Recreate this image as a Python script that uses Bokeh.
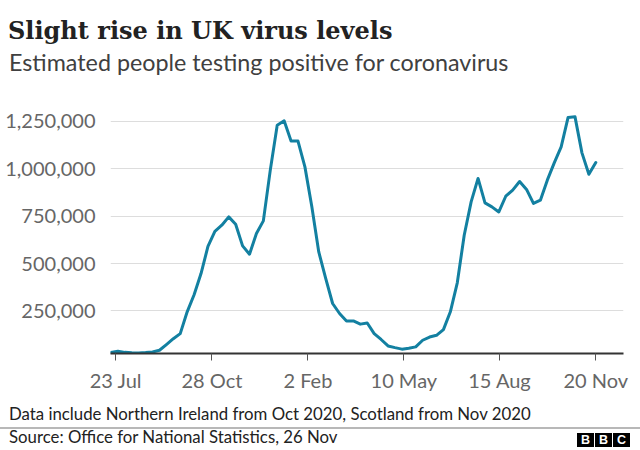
import pandas as pd
from bokeh.plotting import figure
from bokeh.models import ColumnDataSource, FixedTicker, NumeralTickFormatter, Range1d, Div
from bokeh.layouts import column
from bokeh.embed import file_html
from bokeh.resources import INLINE

# ---- data (weekly estimates) ----
week_ending = [
    "2020-07-18", "2020-07-25", "2020-08-01", "2020-08-08", "2020-08-15", "2020-08-22",
    "2020-08-29", "2020-09-05", "2020-09-12", "2020-09-19", "2020-09-26", "2020-10-03",
    "2020-10-10", "2020-10-17", "2020-10-24", "2020-10-31", "2020-11-07", "2020-11-14",
    "2020-11-21", "2020-11-28", "2020-12-05", "2020-12-12", "2020-12-19", "2020-12-26",
    "2021-01-02", "2021-01-09", "2021-01-16", "2021-01-23", "2021-01-30", "2021-02-06",
    "2021-02-13", "2021-02-20", "2021-02-27", "2021-03-06", "2021-03-13", "2021-03-20",
    "2021-03-27", "2021-04-03", "2021-04-10", "2021-04-17", "2021-04-24", "2021-05-01",
    "2021-05-08", "2021-05-15", "2021-05-22", "2021-05-29", "2021-06-05", "2021-06-12",
    "2021-06-19", "2021-06-26", "2021-07-03", "2021-07-10", "2021-07-17", "2021-07-24",
    "2021-07-31", "2021-08-07", "2021-08-14", "2021-08-21", "2021-08-28", "2021-09-04",
    "2021-09-11", "2021-09-18", "2021-09-25", "2021-10-02", "2021-10-09", "2021-10-16",
    "2021-10-23", "2021-10-30", "2021-11-06", "2021-11-13", "2021-11-20",
]
people_positive = [
    30000, 37000, 31000, 29000, 28000, 30000,
    33000, 42000, 72000, 103000, 130000, 245000,
    335000, 447000, 590000, 670000, 702000, 746000,
    707000, 593000, 549000, 658000, 725000, 993000,
    1230000, 1253000, 1147000, 1146000, 1010000, 799000,
    561000, 421000, 289000, 236000, 197000, 197000,
    180000, 186000, 130000, 99000, 65000, 56000,
    48000, 53000, 60000, 95000, 112000, 121000,
    151000, 245000, 398000, 649000, 825000, 949000,
    820000, 799000, 772000, 855000, 887000, 933000,
    891000, 817000, 834000, 940000, 1031000, 1116000,
    1271000, 1274000, 1084000, 971000, 1033000,
]
x_tick_dates = ["2020-07-23", "2020-10-28", "2021-02-02", "2021-05-10", "2021-08-15", "2021-11-20"]
x_tick_labels = ["23 Jul", "28 Oct", "2 Feb", "10 May", "15 Aug", "20 Nov"]
y_ticks = [250000, 500000, 750000, 1000000, 1250000]

title_text = "Slight rise in UK virus levels"
subtitle_text = "Estimated people testing positive for coronavirus"
note_text = "Data include Northern Ireland from Oct 2020, Scotland from Nov 2020"
source_text = "Source: Office for National Statistics, 26 Nov"

W = 640
HEADER_H = 100
FIG_H = 295
FOOTER_H = 55

# ---- header ----
header_html = f"""
<div style="position:relative;width:{W}px;height:{HEADER_H}px;">
  <div style="position:absolute;left:8px;top:19px;white-space:nowrap;line-height:1;
              font-family:'DejaVu Serif';font-weight:bold;font-size:24px;color:#222222;">{title_text}</div>
  <div style="position:absolute;left:9px;top:50.5px;white-space:nowrap;line-height:1;
              font-family:'Lato';font-size:23.3px;color:#404040;">{subtitle_text}</div>
</div>
"""
header = Div(text=header_html, width=W, height=HEADER_H, margin=(0, 0, 0, 0))

# ---- chart ----
src = ColumnDataSource(dict(date=pd.to_datetime(week_ending), value=people_positive))

x_start = pd.Timestamp("2020-07-17 12:00")
x_end = pd.Timestamp("2021-12-18")

p = figure(width=W, height=FIG_H, output_backend="svg", toolbar_location=None,
           x_axis_type="datetime",
           x_range=Range1d(x_start, x_end), y_range=Range1d(25000, 1297000),
           min_border_left=110, min_border_right=17, min_border_top=12,
           min_border_bottom=42, margin=(0, 0, 0, 0))
p.outline_line_color = None

p.line("date", "value", source=src, line_color="#1380A1", line_width=3,
       line_join="round", line_cap="round")

# y axis
p.yaxis.ticker = FixedTicker(ticks=y_ticks)
p.yaxis.formatter = NumeralTickFormatter(format="0,0")
p.yaxis.axis_line_color = None
p.yaxis.major_tick_line_color = None
p.yaxis.minor_tick_line_color = None
p.yaxis.major_label_text_font = "Lato"
p.yaxis.major_label_text_font_size = "20px"
p.yaxis.major_label_text_color = "#666666"
p.yaxis.major_label_standoff = 9
p.ygrid.ticker = FixedTicker(ticks=y_ticks)
p.ygrid.grid_line_color = "#dddddd"
p.ygrid.grid_line_width = 1
p.xgrid.grid_line_color = None

# x axis
tick_ms = [float(pd.Timestamp(d).value // 10**6) for d in x_tick_dates]
p.xaxis.ticker = FixedTicker(ticks=tick_ms)
p.xaxis.major_label_overrides = {t: l for t, l in zip(tick_ms, x_tick_labels)}
p.xaxis.axis_line_color = "#333333"
p.xaxis.axis_line_width = 2
p.xaxis.major_tick_line_color = "#555555"
p.xaxis.major_tick_in = 0
p.xaxis.major_tick_out = 7
p.xaxis.minor_tick_line_color = None
p.xaxis.major_label_text_font = "Lato"
p.xaxis.major_label_text_font_size = "20px"
p.xaxis.major_label_text_color = "#666666"
p.xaxis.major_label_standoff = 7

# ---- footer ----
block = ("position:absolute;top:38px;width:17px;height:14px;background:#000;color:#fff;"
         "font-family:'Liberation Sans';font-weight:bold;font-size:12.5px;line-height:14px;"
         "text-align:center;")
footer_html = f"""
<div style="position:relative;width:{W}px;height:{FOOTER_H}px;">
  <div style="position:absolute;left:9px;top:10.5px;white-space:nowrap;line-height:1;
              font-family:'Lato';font-size:16.8px;color:#222222;">{note_text}</div>
  <div style="position:absolute;left:0px;top:32px;width:{W}px;height:2px;background:#b8b8b8;"></div>
  <div style="position:absolute;left:9px;top:34px;white-space:nowrap;line-height:1;
              font-family:'Lato';font-size:16.8px;color:#222222;">{source_text}</div>
  <div style="{block}left:577px;">B</div>
  <div style="{block}left:595px;">B</div>
  <div style="{block}left:613px;">C</div>
</div>
"""
footer = Div(text=footer_html, width=W, height=FOOTER_H, margin=(0, 0, 0, 0))

layout = column(header, p, footer, spacing=0, margin=(0, 0, 0, 0))

open("out.html", "w").write(file_html(layout, INLINE))
